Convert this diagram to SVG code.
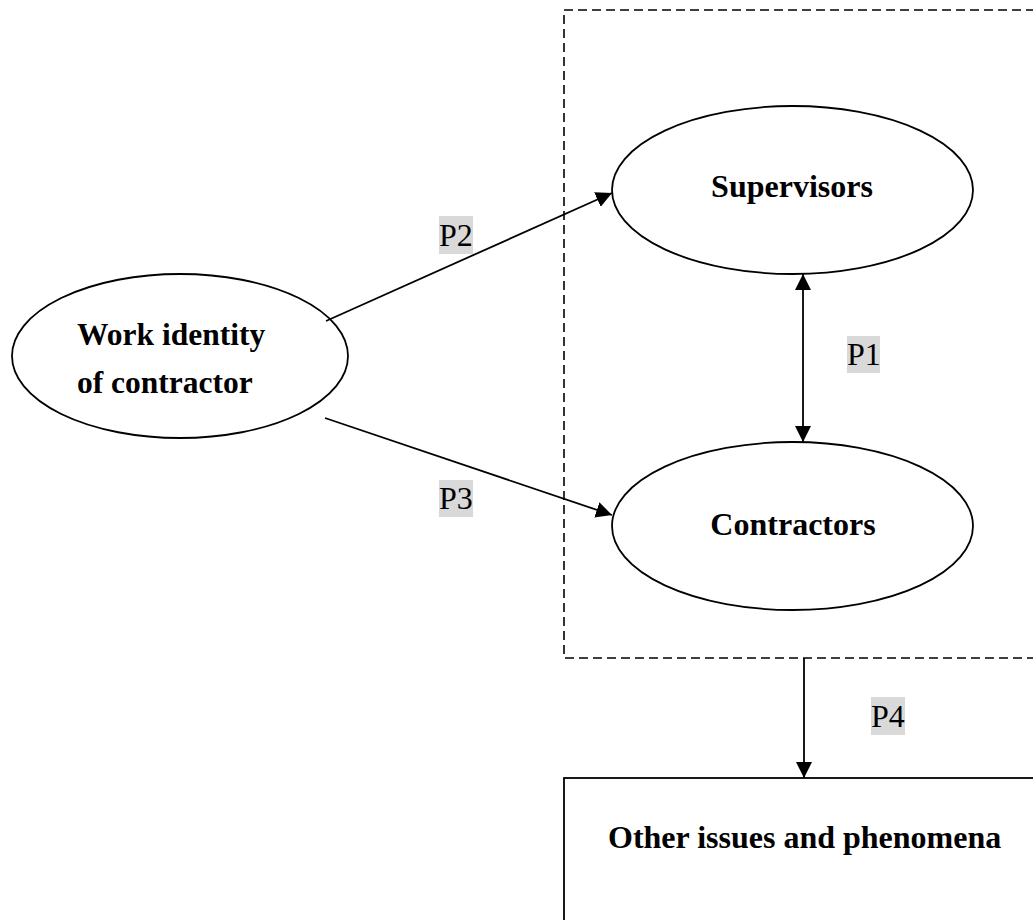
<svg xmlns="http://www.w3.org/2000/svg" width="1033" height="920" viewBox="0 0 1033 920">
  <style>
    .shape { fill: #ffffff; stroke: #000000; stroke-width: 1.8; }
    .dash { fill: none; stroke: #000000; stroke-width: 1.6; stroke-dasharray: 9 5; }
    .conn { fill: none; stroke: #000000; stroke-width: 1.8; }
    .node-text { font-family: "Liberation Serif", "Times New Roman", serif; font-weight: bold; font-size: 32px; fill: #000000; }
    .lbl-text { font-family: "Liberation Serif", "Times New Roman", serif; font-size: 32px; fill: #000000; }
    .lbl-bg { fill: #d9d9d9; stroke: none; }
  </style>
  <defs>
    <marker id="arrowEnd" viewBox="0 0 16 16" refX="16" refY="8" markerWidth="16" markerHeight="16" markerUnits="userSpaceOnUse" orient="auto">
      <path d="M0,0 L16,8 L0,16 Z" fill="#000000"/>
    </marker>
    <marker id="arrowStart" viewBox="0 0 16 16" refX="0" refY="8" markerWidth="16" markerHeight="16" markerUnits="userSpaceOnUse" orient="auto">
      <path d="M16,0 L0,8 L16,16 Z" fill="#000000"/>
    </marker>
  </defs>
  <rect width="1033" height="920" fill="#ffffff"/>

  <g id="group-box">
    <rect class="dash" x="564" y="10" width="500" height="648"/>
  </g>

  <g id="node-work-identity">
    <ellipse class="shape" cx="180" cy="356" rx="168" ry="82"/>
    <text class="node-text" x="77" y="345" style="font-size:31.5px">Work identity</text>
    <text class="node-text" x="77" y="393" style="font-size:31.5px">of contractor</text>
  </g>

  <g id="node-supervisors">
    <ellipse class="shape" cx="792.5" cy="190" rx="180.5" ry="84"/>
    <text class="node-text" x="792" y="197" text-anchor="middle">Supervisors</text>
  </g>

  <g id="node-contractors">
    <ellipse class="shape" cx="792.5" cy="526" rx="180.5" ry="84"/>
    <text class="node-text" x="793" y="535" text-anchor="middle">Contractors</text>
  </g>

  <g id="node-other">
    <rect class="shape" x="564" y="778" width="520" height="200"/>
    <text class="node-text" x="608" y="848">Other issues and phenomena</text>
  </g>

  <g id="connectors">
    <line class="conn" x1="326" y1="321" x2="612" y2="193" marker-end="url(#arrowEnd)"/>
    <line class="conn" x1="325" y1="418" x2="612" y2="515" marker-end="url(#arrowEnd)"/>
    <line class="conn" x1="803" y1="274" x2="803" y2="442" marker-start="url(#arrowStart)" marker-end="url(#arrowEnd)"/>
    <line class="conn" x1="804" y1="658" x2="804" y2="778" marker-end="url(#arrowEnd)"/>
  </g>

  <g id="labels">
    <g id="label-p2">
      <rect class="lbl-bg" x="439" y="216" width="34" height="38"/>
      <text class="lbl-text" x="439" y="246">P2</text>
    </g>
    <g id="label-p3">
      <rect class="lbl-bg" x="439" y="480" width="34" height="37"/>
      <text class="lbl-text" x="439" y="509">P3</text>
    </g>
    <g id="label-p1">
      <rect class="lbl-bg" x="847" y="336" width="33" height="37"/>
      <text class="lbl-text" x="847" y="365">P1</text>
    </g>
    <g id="label-p4">
      <rect class="lbl-bg" x="871" y="697" width="34" height="38"/>
      <text class="lbl-text" x="871" y="727">P4</text>
    </g>
  </g>
</svg>
